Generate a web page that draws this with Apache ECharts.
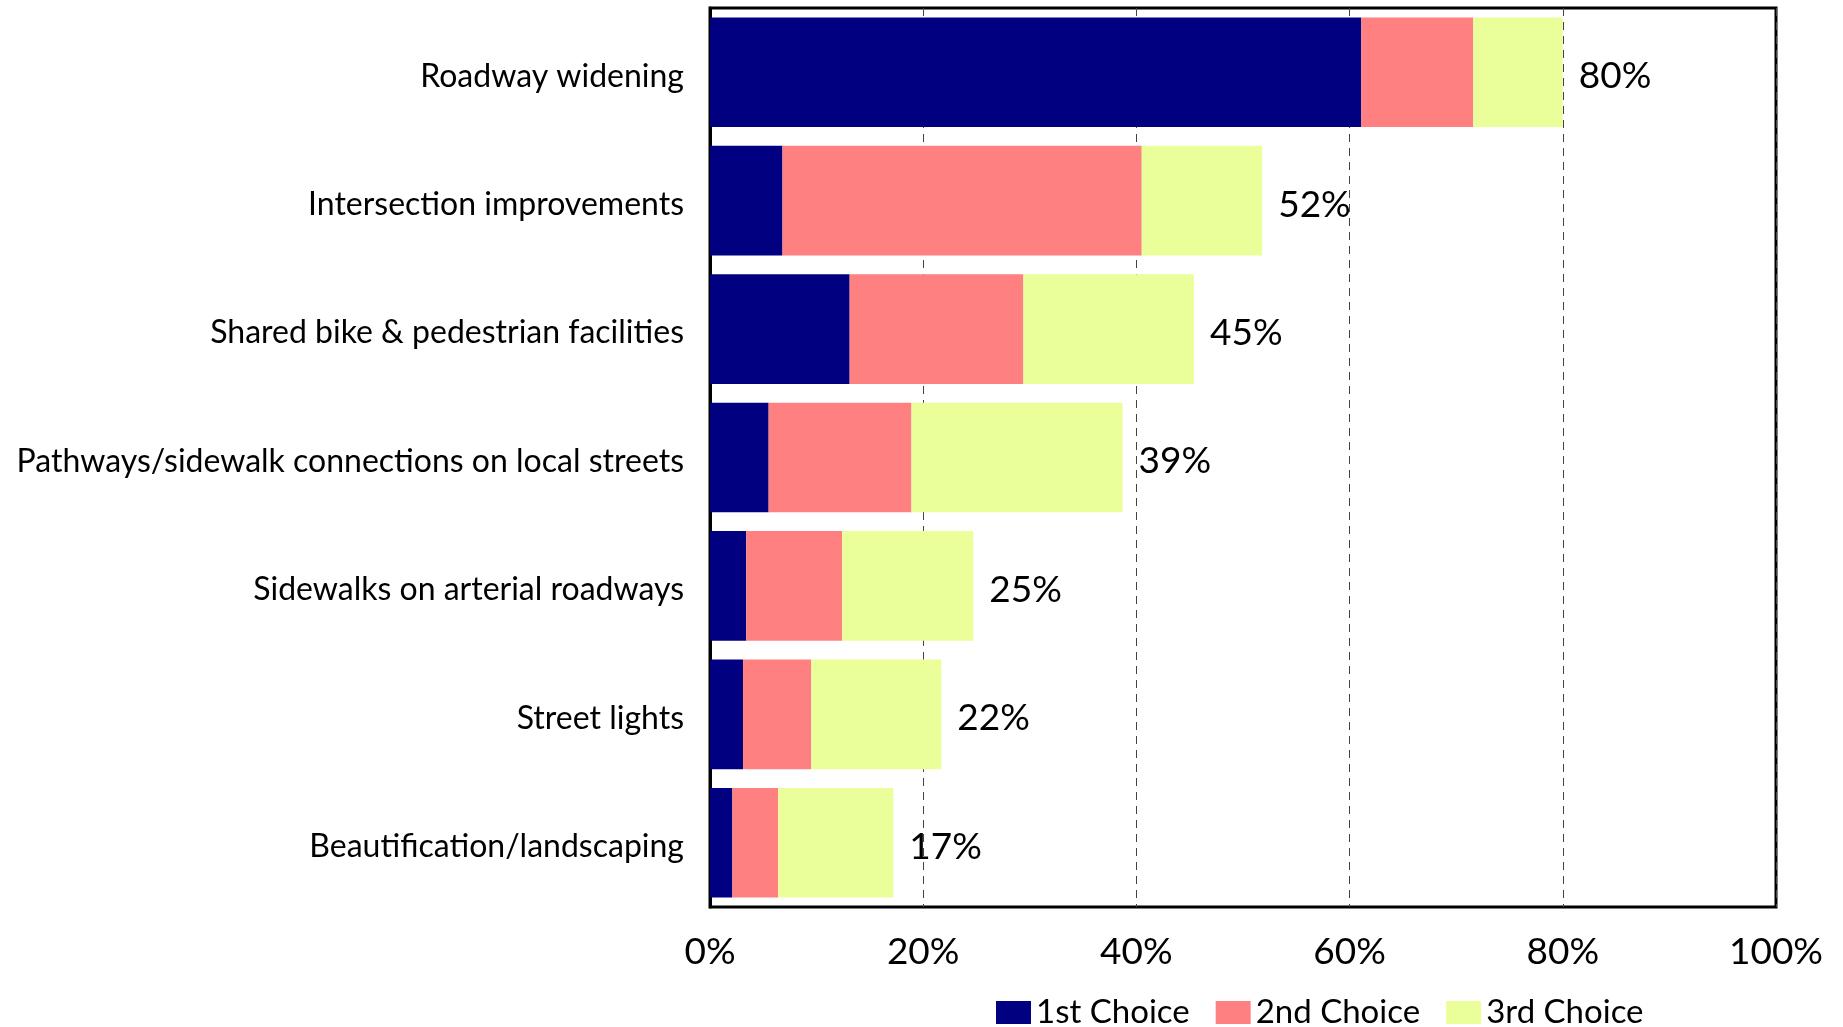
<!DOCTYPE html>
<html>
<head>
<meta charset="utf-8">
<title>Priorities</title>
<script src="https://cdn.jsdelivr.net/npm/echarts@6/dist/echarts.min.js"></script>
<style>
  html, body { margin: 0; padding: 0; background: #fff; }
  #chart { width: 1843px; height: 1027px; }
</style>
</head>
<body>
<div id="chart"></div>
<script>
const categories = [
  'Roadway widening',
  'Intersection improvements',
  'Shared bike & pedestrian facilities',
  'Pathways/sidewalk connections on local streets',
  'Sidewalks on arterial roadways',
  'Street lights',
  'Beautification/landscaping'
]
const firstChoice = [61.1, 6.8, 13.1, 5.5, 3.4, 3.1, 2.1]
const secondChoice = [10.5, 33.7, 16.3, 13.4, 9.0, 6.4, 4.3]
const thirdChoice = [8.4, 11.3, 16.0, 19.8, 12.3, 12.2, 10.8]
const xTicks = [0, 20, 40, 60, 80, 100]

const font = 'Lato, "Open Sans", sans-serif'
const chart = echarts.init(document.getElementById('chart'))

// total of the three choices, shown at the end of each bar
const totals = categories.map((c, i) => firstChoice[i] + secondChoice[i] + thirdChoice[i])

const option = {
  animation: false,
  grid: {
    left: 710,
    right: 67,
    top: 8,
    bottom: 120,
    show: true,
    borderColor: '#000',
    borderWidth: 3,
    backgroundColor: 'transparent'
  },
  legend: {
    left: 991,
    top: 991,
    icon: 'rect',
    itemWidth: 35,
    itemHeight: 23,
    itemGap: 26,
    textStyle: { fontFamily: font, fontSize: 33, color: '#000' },
    data: ['1st Choice', '2nd Choice', '3rd Choice']
  },
  xAxis: {
    type: 'value',
    min: xTicks[0],
    max: xTicks[xTicks.length - 1],
    interval: 20,
    axisLine: { show: false },
    axisTick: { show: false },
    axisLabel: {
      formatter: v => v + '%',
      fontFamily: font,
      fontSize: 37,
      color: '#000',
      margin: 27
    },
    splitLine: {
      show: true,
      lineStyle: { color: '#444', width: 1, type: [8, 6] }
    }
  },
  yAxis: {
    type: 'category',
    inverse: true,
    data: categories,
    axisLine: { show: true, lineStyle: { color: '#000', width: 3 } },
    axisTick: { show: false },
    axisLabel: {
      fontFamily: font,
      fontSize: 32,
      color: '#000',
      margin: 26,
      // nudge text down a little, like the original's font metrics
      verticalAlign: 'top',
      lineHeight: 8
    }
  },
  series: [
    {
      name: '1st Choice',
      type: 'bar',
      stack: 'all',
      barCategoryGap: '14.6%',
      itemStyle: { color: '#000080' },
      data: firstChoice
    },
    {
      name: '2nd Choice',
      type: 'bar',
      stack: 'all',
      itemStyle: { color: '#ff8080' },
      data: secondChoice
    },
    {
      name: '3rd Choice',
      type: 'bar',
      stack: 'all',
      itemStyle: { color: '#eaff99' },
      label: {
        show: true,
        position: 'right',
        distance: 16,
        offset: [0, 4],
        fontFamily: font,
        fontSize: 37,
        color: '#000',
        formatter: p => Math.round(totals[p.dataIndex]) + '%'
      },
      data: thirdChoice
    }
  ]
}
chart.setOption(option)
</script>
</body>
</html>
